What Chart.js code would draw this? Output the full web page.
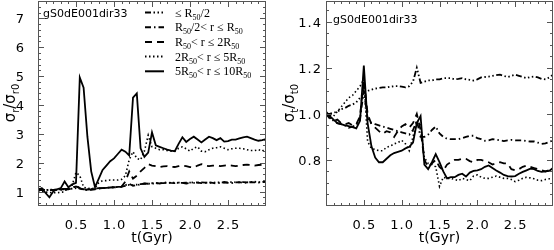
<!DOCTYPE html>
<html>
<head>
<meta charset="utf-8">
<script src="https://cdn.jsdelivr.net/npm/chart.js@4.4.0/dist/chart.umd.min.js"></script>
<style>
  html, body { margin: 0; padding: 0; background: #fff; }
  #wrap { position: relative; width: 554px; height: 250px; }
  canvas { position: absolute; top: 0; }
</style>
</head>
<body>
<div id="wrap">
  <canvas id="left" width="277" height="250" style="left:0"></canvas>
  <canvas id="right" width="277" height="250" style="left:277px"></canvas>
</div>
<script>
// tempo (Gyr)
const times = [0, 0.05, 0.1, 0.15, 0.2, 0.25, 0.3, 0.35, 0.4, 0.45, 0.5, 0.55, 0.6, 0.65, 0.7, 0.75, 0.8, 0.85, 0.9, 0.95,
  1.0, 1.05, 1.1, 1.15, 1.2, 1.25, 1.3, 1.35, 1.4, 1.45, 1.5, 1.55, 1.6, 1.65, 1.7, 1.75, 1.8, 1.85, 1.9, 1.95,
  2.0, 2.05, 2.1, 2.15, 2.2, 2.25, 2.3, 2.35, 2.4, 2.45, 2.5, 2.55, 2.6, 2.65, 2.7, 2.75, 2.8, 2.85, 2.9, 2.95, 3.0];

const legendLabels = ['≤ R_{50}/2', 'R_{50}/2< r ≤ R_{50}', 'R_{50}< r ≤ 2R_{50}', '2R_{50}< r ≤ 5R_{50}', '5R_{50}< r ≤ 10R_{50}'];
const xTicks = [0.5, 1.0, 1.5, 2.0, 2.5];
const yTicksLeft = [1, 2, 3, 4, 5, 6, 7];
const yTicksRight = [0.8, 1.0, 1.2, 1.4];

// painel esquerdo: sigma_r / sigma_r0
const rIn = [1.05, 1.05, 1.06, 1.06, 1.07, 1.07, 1.08, 1.08, 1.09, 1.1, 1.12, 1.1, 1.08, 1.08, 1.09, 1.1, 1.11, 1.12, 1.13, 1.14,
  1.15, 1.16, 1.17, 1.2, 1.23, 1.22, 1.24, 1.26, 1.27, 1.27, 1.28, 1.28, 1.29, 1.29, 1.3, 1.3, 1.31, 1.3, 1.3, 1.31,
  1.31, 1.3, 1.31, 1.32, 1.31, 1.3, 1.31, 1.32, 1.32, 1.31, 1.32, 1.33, 1.32, 1.32, 1.33, 1.32, 1.33, 1.34, 1.33, 1.33, 1.34];
const rR1 = [1.1, 1.08, 1.06, 1.05, 1.05, 1.06, 1.06, 1.07, 1.08, 1.12, 1.2, 1.12, 1.05, 1.05, 1.06, 1.08, 1.1, 1.12, 1.13, 1.14,
  1.15, 1.16, 1.17, 1.22, 1.27, 1.2, 1.22, 1.25, 1.28, 1.27, 1.29, 1.3, 1.28, 1.3, 1.32, 1.3, 1.29, 1.31, 1.3, 1.28,
  1.3, 1.32, 1.31, 1.29, 1.3, 1.32, 1.3, 1.28, 1.31, 1.33, 1.3, 1.29, 1.32, 1.33, 1.3, 1.31, 1.33, 1.32, 1.31, 1.33, 1.35];
const rR2 = [1.05, 1.07, 1.06, 1.05, 1.06, 1.07, 1.08, 1.09, 1.1, 1.12, 1.18, 1.12, 1.08, 1.07, 1.08, 1.1, 1.12, 1.12, 1.13, 1.14,
  1.15, 1.15, 1.17, 1.35, 1.7, 1.45, 1.55, 1.7, 1.82, 1.95, 1.9, 1.88, 1.85, 1.87, 1.88, 1.86, 1.85, 1.88, 1.9, 1.88,
  1.85, 1.83, 1.9, 1.95, 1.9, 1.88, 1.9, 1.9, 1.88, 1.9, 1.92, 1.9, 1.88, 1.9, 1.92, 1.93, 1.92, 1.9, 1.92, 1.93, 1.92];
const rR5 = [1.0, 1.0, 0.98, 0.97, 0.96, 0.96, 0.97, 1.0, 1.15, 1.22, 1.66, 1.55, 1.15, 1.12, 1.1, 1.12, 1.3, 1.38, 1.38, 1.4,
  1.4, 1.4, 1.42, 1.55, 2.1, 2.38, 2.15, 2.1, 2.4, 2.95, 2.55, 2.5, 2.45, 2.45, 2.42, 2.4, 2.4, 2.5, 2.55, 2.48,
  2.4, 2.5, 2.55, 2.4, 2.38, 2.45, 2.5, 2.52, 2.55, 2.5, 2.45, 2.48, 2.5, 2.5, 2.48, 2.45, 2.42, 2.42, 2.45, 2.4, 2.5];
const rR10 = [1.05, 1.12, 0.95, 0.8, 1.0, 1.08, 1.12, 1.35, 1.15, 1.25, 1.3, 4.95, 4.6, 2.9, 1.7, 1.15, 1.45, 1.75, 1.9, 2.05,
  2.15, 2.3, 2.45, 2.38, 2.25, 4.25, 4.4, 2.5, 2.2, 2.35, 3.05, 2.6, 2.55, 2.5, 2.45, 2.42, 2.4, 2.65, 2.88, 2.72,
  2.82, 2.9, 2.8, 2.7, 2.8, 2.9, 2.85, 2.78, 2.85, 2.73, 2.75, 2.8, 2.8, 2.84, 2.88, 2.9, 2.85, 2.8, 2.76, 2.78, 2.82];

// painel direito: sigma_t / sigma_t0
const tIn = [1.0, 1.0, 1.005, 1.01, 1.02, 1.025, 1.035, 1.04, 1.05, 1.07, 1.09, 1.1, 1.105, 1.11, 1.112, 1.115, 1.115, 1.118, 1.12, 1.12,
  1.118, 1.115, 1.12, 1.14, 1.2, 1.135, 1.14, 1.145, 1.145, 1.15, 1.15, 1.155, 1.155, 1.155, 1.15, 1.152, 1.155, 1.15, 1.148, 1.145,
  1.15, 1.158, 1.16, 1.162, 1.165, 1.168, 1.17, 1.165, 1.16, 1.165, 1.17, 1.165, 1.16, 1.155, 1.16, 1.162, 1.158, 1.152, 1.15, 1.158, 1.17];
const tR1 = [1.0, 0.98, 0.97, 0.96, 0.955, 0.95, 0.94, 0.945, 0.95, 0.98, 1.1, 0.98, 0.96, 0.955, 0.95, 0.945, 0.94, 0.935, 0.93, 0.925,
  0.92, 0.915, 0.91, 0.93, 0.97, 0.9, 0.9, 0.91, 0.93, 0.945, 0.915, 0.9, 0.892, 0.89, 0.89, 0.89, 0.895, 0.9, 0.905, 0.905,
  0.895, 0.89, 0.883, 0.885, 0.89, 0.888, 0.885, 0.882, 0.885, 0.887, 0.885, 0.885, 0.885, 0.882, 0.88, 0.88, 0.875, 0.87, 0.872, 0.878, 0.885];
const tR2 = [1.0, 0.985, 0.97, 0.975, 0.96, 0.955, 0.96, 0.95, 0.955, 0.99, 1.15, 1.0, 0.955, 0.94, 0.925, 0.914, 0.925, 0.92, 0.9, 0.925,
  0.945, 0.955, 0.94, 0.96, 1.0, 0.93, 0.8, 0.77, 0.785, 0.8, 0.77, 0.755, 0.78, 0.79, 0.8, 0.8, 0.805, 0.805, 0.795, 0.79,
  0.8, 0.8, 0.795, 0.79, 0.78, 0.785, 0.79, 0.785, 0.785, 0.76, 0.755, 0.76, 0.77, 0.775, 0.77, 0.765, 0.76, 0.755, 0.75, 0.755, 0.76];
const tR5 = [1.0, 0.995, 0.99, 1.01, 1.03, 1.05, 1.07, 1.08, 1.1, 1.12, 1.15, 0.88, 0.85, 0.845, 0.84, 0.84, 0.855, 0.86, 0.87, 0.875,
  0.885, 0.87, 0.84, 0.9, 0.97, 0.95, 0.81, 0.785, 0.78, 0.77, 0.685, 0.725, 0.72, 0.72, 0.715, 0.71, 0.72, 0.715, 0.71, 0.73,
  0.735, 0.725, 0.72, 0.72, 0.725, 0.73, 0.725, 0.72, 0.72, 0.715, 0.706, 0.712, 0.72, 0.725, 0.722, 0.718, 0.712, 0.71, 0.715, 0.718, 0.72];
const tR10 = [1.01, 0.99, 0.975, 0.96, 0.955, 0.95, 0.947, 0.942, 0.937, 0.97, 1.21, 0.96, 0.86, 0.81, 0.79, 0.79, 0.805, 0.82, 0.83, 0.835,
  0.84, 0.85, 0.857, 0.875, 0.96, 0.99, 0.78, 0.76, 0.79, 0.825, 0.79, 0.75, 0.72, 0.725, 0.725, 0.735, 0.74, 0.728, 0.745, 0.752,
  0.755, 0.76, 0.77, 0.776, 0.765, 0.754, 0.745, 0.735, 0.73, 0.728, 0.73, 0.74, 0.748, 0.755, 0.762, 0.76, 0.752, 0.748, 0.75, 0.752, 0.765];

// estilos de linha (IDL linestyle)
const dashes = [
  [6, 2.5, 1.5, 2.5, 1.5, 2.5, 1.5, 2.5],
  [6, 3, 1.5, 3],
  [7, 5],
  [1.5, 2.5],
  []
];

// texto com subscritos: 'R_{50}'
function drawRich(ctx, str, x, y, size, family, align) {
  const parts = [];
  const re = /_\{([^}]*)\}/g;
  let last = 0, m;
  while ((m = re.exec(str)) !== null) {
    if (m.index > last) parts.push({ t: str.slice(last, m.index), sub: false });
    parts.push({ t: m[1], sub: true });
    last = re.lastIndex;
  }
  if (last < str.length) parts.push({ t: str.slice(last), sub: false });
  const subSize = Math.round(size * 0.68);
  let w = 0;
  parts.forEach(p => {
    ctx.font = (p.sub ? subSize : size) + 'px ' + family;
    p.w = ctx.measureText(p.t).width;
    w += p.w;
  });
  let cx = align === 'center' ? x - w / 2 : x;
  ctx.textBaseline = 'alphabetic';
  ctx.textAlign = 'left';
  parts.forEach(p => {
    ctx.font = (p.sub ? subSize : size) + 'px ' + family;
    ctx.fillText(p.t, cx, p.sub ? y + size * 0.25 : y);
    cx += p.w;
  });
}

const idlFrame = {
  id: 'idlFrame',
  afterDraw(chart, args, opts) {
    const { ctx, chartArea: a, scales: { x, y } } = chart;
    ctx.save();
    ctx.strokeStyle = '#555';
    ctx.lineWidth = 1;
    ctx.setLineDash([]);
    ctx.strokeRect(a.left + 0.5, a.top + 0.5, a.right - a.left - 1, a.bottom - a.top - 1);
    ctx.beginPath();
    // x ticks a cada 0.1, maiores a cada 0.5
    for (let i = 1; i < 30; i++) {
      const px = Math.round(x.getPixelForValue(i / 10)) + 0.5;
      const len = i % 5 === 0 ? 6 : 3;
      ctx.moveTo(px, a.bottom); ctx.lineTo(px, a.bottom - len);
      ctx.moveTo(px, a.top); ctx.lineTo(px, a.top + len);
    }
    for (let i = opts.yMinor[0]; i <= opts.yMinor[1]; i++) {
      const v = i * opts.yMinor[2];
      const py = Math.round(y.getPixelForValue(v)) + 0.5;
      if (py <= a.top + 1 || py >= a.bottom - 1) continue;
      const len = i % opts.yMinor[3] === 0 ? 6 : 3;
      ctx.moveTo(a.left, py); ctx.lineTo(a.left + len, py);
      ctx.moveTo(a.right, py); ctx.lineTo(a.right - len, py);
    }
    ctx.stroke();

    ctx.fillStyle = '#000';
    // rótulos dos ticks
    ctx.font = '13px "DejaVu Sans"';
    ctx.letterSpacing = '1px';
    ctx.textBaseline = 'alphabetic';
    ctx.textAlign = 'center';
    xTicks.forEach(v => ctx.fillText(v.toFixed(1), x.getPixelForValue(v) + 0.5, 229));
    ctx.textAlign = 'right';
    opts.yTicks.forEach(v => ctx.fillText(opts.yFmt(v), a.left - opts.labelPad + 1, y.getPixelForValue(v) + 5));
    ctx.letterSpacing = '0px';

    // rótulo do painel
    ctx.font = '11px "DejaVu Sans"';
    ctx.textAlign = 'left';
    ctx.fillText('gS0dE001dir33', opts.tag[0], opts.tag[1]);
    // título eixo x
    ctx.font = '14px "DejaVu Sans"';
    ctx.textAlign = 'center';
    ctx.fillText('t(Gyr)', (a.left + a.right) / 2, 242);
    // título eixo y
    ctx.save();
    ctx.translate(opts.ytitle[1], opts.ytitle[2]);
    ctx.rotate(-Math.PI / 2);
    drawRich(ctx, opts.ytitle[0], 0, 0, 15, '"DejaVu Sans"', 'center');
    ctx.restore();

    // legenda
    if (opts.legend) {
      for (let i = 0; i < legendLabels.length; i++) {
        const ly = 12.5 + i * 14.7;
        ctx.beginPath();
        ctx.strokeStyle = '#000';
        ctx.lineWidth = 2;
        ctx.setLineDash(dashes[i]);
        ctx.moveTo(145, ly); ctx.lineTo(164, ly);
        ctx.stroke();
        ctx.setLineDash([]);
        ctx.fillStyle = '#000';
        drawRich(ctx, legendLabels[i], 175, ly + 4, 12, '"Liberation Serif"', 'left');
      }
    }
    ctx.restore();
  }
};

function makeSets(series) {
  return series.map((vals, i) => ({
    data: times.map((t, k) => ({ x: t, y: vals[k] })),
    borderColor: '#000',
    borderWidth: i === 3 ? 1.6 : 1.8,
    borderDash: dashes[i],
    pointRadius: 0,
    tension: 0,
    fill: false
  }));
}

function makeChart(id, series, yMin, yMax, yWidth, padRight, frameOpts) {
  return new Chart(document.getElementById(id), {
    type: 'line',
    data: { datasets: makeSets(series) },
    plugins: [idlFrame],
    options: {
      responsive: false,
      animation: false,
      layout: { padding: { top: 1, right: padRight, left: 0, bottom: 0 } },
      plugins: { legend: { display: false }, tooltip: { enabled: false }, idlFrame: frameOpts },
      scales: {
        x: {
          type: 'linear', min: 0, max: 3,
          afterFit: s => { s.height = 44; },
          grid: { display: false, drawTicks: false },
          border: { display: false },
          ticks: { display: false }
        },
        y: {
          type: 'linear', min: yMin, max: yMax,
          afterFit: s => { s.width = yWidth; },
          grid: { display: false, drawTicks: false },
          border: { display: false },
          ticks: { display: false }
        }
      }
    }
  });
}

makeChart('left', [rIn, rR1, rR2, rR5, rR10], 0.5, 7.6, 38, 11,
  { yTicks: yTicksLeft, yFmt: v => String(v), labelPad: 14, yMinor: [3, 38, 0.2, 5], tag: [43, 17],
    ytitle: ['σ_{r}/σ_{r0}', 15, 103], legend: true });
makeChart('right', [tIn, tR1, tR2, tR5, tR10], 0.6, 1.49, 49, 1,
  { yTicks: yTicksRight, yFmt: v => v.toFixed(1), labelPad: 5, yMinor: [12, 30, 0.05, 4], tag: [56, 23],
    ytitle: ['σ_{t}/σ_{t0}', 17, 103], legend: false });
</script>
</body>
</html>
